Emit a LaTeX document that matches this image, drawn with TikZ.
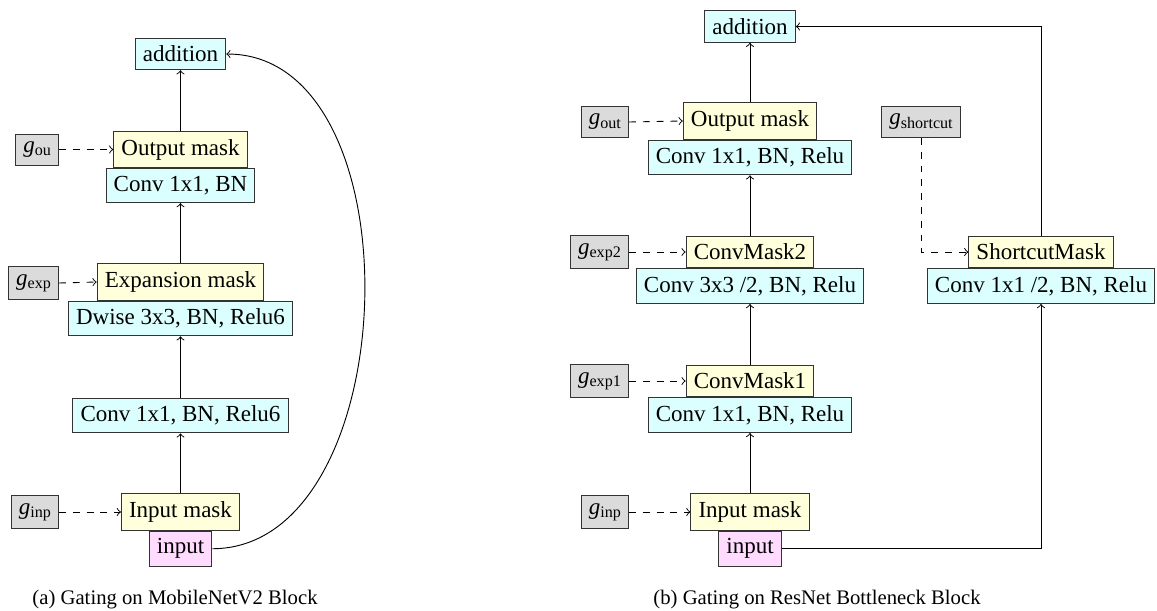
\documentclass[tikz,border=0pt]{standalone}
\usepackage{fontspec}
\setmainfont{Liberation Serif}
\definecolor{cfill}{rgb}{0.86,1,1}
\definecolor{mfill}{rgb}{1,1,0.86}
\definecolor{ifill}{rgb}{1,0.86,1}
\definecolor{gfill}{rgb}{0.86,0.86,0.86}
\definecolor{bline}{rgb}{0.2,0.2,0.2}
\newcommand{\gsub}[1]{\textit{g}\raisebox{-0.3ex}{\scriptsize #1}}
\begin{document}
\begin{tikzpicture}[x=0.434783pt,y=-0.434783pt,
  box/.style={draw=bline, inner sep=0.3333em},
  convbox/.style={box, fill=cfill},
  maskbox/.style={box, fill=mfill},
  inpbox/.style={box, fill=ifill},
  gatebox/.style={box, fill=gfill},
  flow/.style={->, black},
  gating/.style={->, dashed, black},
  captext/.style={font=\small, inner sep=0pt, anchor=base west}]
\useasboundingbox (0,0) rectangle (1157,610);

% ---------- (a) MobileNetV2 ----------
\node[convbox] (addA) at (180.5,54) {addition};
\node[maskbox] (outmaskA) at (180.5,149.5) {Output mask};
\node[convbox, anchor=north] (convA3) at (outmaskA.south) {Conv 1x1, BN};
\node[maskbox] (expmaskA) at (180.5,282) {Expansion mask};
\node[convbox, anchor=north] (dwiseA) at (expmaskA.south) {Dwise 3x3, BN, Relu6};
\node[convbox] (convA1) at (180.5,415.5) {Conv 1x1, BN, Relu6};
\node[maskbox] (inmaskA) at (180.5,512) {Input mask};
\node[inpbox, anchor=north] (inputA) at (inmaskA.south) {input};

\node[gatebox, anchor=east] (gouA) at (59,149.5) {\gsub{ou}};
\node[gatebox, anchor=east] (gexpA) at (59,283) {\gsub{exp}};
\node[gatebox, anchor=east] (ginpA) at (59,512) {\gsub{inp}};

\draw[flow] (outmaskA.north) -- (addA.south);
\draw[flow] (expmaskA.north) -- (convA3.south);
\draw[flow] (convA1.north) -- (dwiseA.south);
\draw[flow] (inmaskA.north) -- (convA1.south);
\draw[flow] (inputA.east) to[out=0,in=0] (addA.east);

\draw[gating] (gouA.east) -- (outmaskA.west);
\draw[gating] (gexpA.east) -- (expmaskA.west);
\draw[gating] (ginpA.east) -- (inmaskA.west);

\node[captext] (capA) at (32,604) {(a) Gating on MobileNetV2 Block};

% ---------- (b) ResNet Bottleneck ----------
\node[convbox] (addB) at (750,26.5) {addition};
\node[maskbox] (outmaskB) at (750,121) {Output mask};
\node[convbox, anchor=north] (convB3) at (outmaskB.south) {Conv 1x1, BN, Relu};
\node[maskbox] (cmask2B) at (750,252) {ConvMask2};
\node[convbox, anchor=north] (convB2) at (cmask2B.south) {Conv 3x3 /2, BN, Relu};
\node[maskbox] (cmask1B) at (750,381) {ConvMask1};
\node[convbox, anchor=north] (convB1) at (cmask1B.south) {Conv 1x1, BN, Relu};
\node[maskbox] (inmaskB) at (750,512) {Input mask};
\node[inpbox, anchor=north] (inputB) at (inmaskB.south) {input};

\node[maskbox] (smaskB) at (1041,252) {ShortcutMask};
\node[convbox, anchor=north] (convS) at (smaskB.south) {Conv 1x1 /2, BN, Relu};

\node[gatebox, anchor=east] (goutB) at (629,122) {\gsub{out}};
\node[gatebox, anchor=east] (gexp2B) at (629,252) {\gsub{exp2}};
\node[gatebox, anchor=east] (gexp1B) at (629,381) {\gsub{exp1}};
\node[gatebox, anchor=east] (ginpB) at (629,512) {\gsub{inp}};
\node[gatebox] (gshortB) at (921,122) {\gsub{shortcut}};

\draw[flow] (outmaskB.north) -- (addB.south);
\draw[flow] (cmask2B.north) -- (convB3.south);
\draw[flow] (cmask1B.north) -- (convB2.south);
\draw[flow] (inmaskB.north) -- (convB1.south);
\draw[flow] (inputB.east) -| (convS.south);
\draw[flow] (smaskB.north) |- (addB.east);

\draw[gating] (goutB.east) -- (outmaskB.west);
\draw[gating] (gexp2B.east) -- (cmask2B.west);
\draw[gating] (gexp1B.east) -- (cmask1B.west);
\draw[gating] (ginpB.east) -- (inmaskB.west);
\draw[gating] (gshortB.south) |- (smaskB.west);

\node[captext] (capB) at (653,604) {(b) Gating on ResNet Bottleneck Block};
\end{tikzpicture}
\end{document}
